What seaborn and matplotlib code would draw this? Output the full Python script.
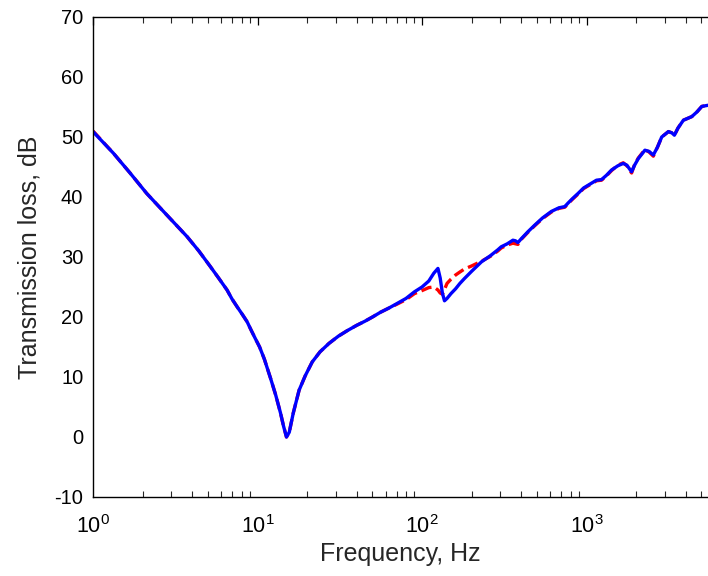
import numpy as np
import pandas as pd
import matplotlib
matplotlib.use("Agg")
import matplotlib.pyplot as plt
import seaborn as sns
from matplotlib.ticker import LogLocator, NullFormatter

freq = [1.0, 1.33, 1.68, 2.12, 2.81, 3.73, 4.4, 5.17, 5.8, 6.53, 7.0, 7.52, 8.1, 8.65,
        9.15, 9.7, 10.3, 11.0, 12.0, 12.9, 13.8, 14.4, 15.0, 15.6, 16.5, 17.9, 19.5,
        21.5, 24.0, 27.2, 31, 35, 40, 45, 50, 56, 63, 70, 80, 90, 100, 110, 118, 125,
        129, 133, 137, 142, 150, 160, 170, 181, 200, 230, 260, 289, 303, 330, 357, 370,
        383, 400, 440, 484, 540, 612, 680, 738, 773, 820, 889, 960, 1072, 1150, 1234,
        1320, 1420, 1550, 1673, 1760, 1880, 1960, 2065, 2265, 2400, 2548, 2700, 2866,
        3148, 3300, 3422, 3600, 3882, 4366, 4700, 5024, 5514, 5700]

tl_measured = [50.9, 47.3, 44.0, 40.6, 37.0, 33.4, 31.0, 28.4, 26.5, 24.5, 23.0, 21.7,
               20.4, 19.2, 17.8, 16.4, 15.0, 13.0, 9.8, 7.0, 4.0, 1.8, 0.0, 0.8, 4.0,
               7.8, 10.2, 12.5, 14.2, 15.6, 16.8, 17.7, 18.6, 19.3, 20.0, 20.8, 21.5,
               22.2, 23.1, 24.2, 25.0, 26.0, 27.3, 28.1, 26.5, 24.0, 22.7, 23.1, 23.9,
               24.7, 25.6, 26.4, 27.6, 29.2, 30.2, 31.2, 31.7, 32.2, 32.8, 32.7, 32.4,
               33.0, 34.2, 35.3, 36.5, 37.6, 38.2, 38.4, 39.0, 39.7, 40.6, 41.5, 42.3,
               42.8, 42.9, 43.6, 44.5, 45.2, 45.6, 45.3, 44.2, 45.3, 46.4, 47.8, 47.6,
               47.0, 48.3, 50.0, 50.9, 50.7, 50.3, 51.5, 52.8, 53.4, 54.2, 55.1, 55.3,
               55.4]

tl_model = [51.0, 47.3, 44.0, 40.6, 37.0, 33.4, 31.0, 28.4, 26.5, 24.5, 23.0, 21.7,
            20.4, 19.2, 17.8, 16.4, 15.0, 13.0, 9.8, 7.0, 4.0, 1.8, 0.0, 0.8, 4.0,
            7.8, 10.2, 12.5, 14.2, 15.6, 16.8, 17.7, 18.6, 19.3, 20.0, 20.8, 21.5,
            22.1, 22.9, 23.9, 24.4, 24.9, 25.0, 24.5, 24.0, 23.8, 24.6, 25.6, 26.3,
            27.0, 27.5, 28.0, 28.5, 29.3, 30.1, 31.0, 31.5, 32.0, 32.3, 32.2, 32.1,
            32.9, 34.1, 35.2, 36.4, 37.5, 38.1, 38.3, 38.9, 39.6, 40.5, 41.4, 42.2,
            42.7, 42.8, 43.5, 44.4, 45.3, 45.7, 45.2, 44.0, 45.4, 46.5, 47.9, 47.5,
            46.8, 48.3, 50.0, 50.9, 50.7, 50.3, 51.5, 52.8, 53.4, 54.2, 55.1, 55.3,
            55.4]

y_ticks = [-10, 0, 10, 20, 30, 40, 50, 60, 70]

sns.set_theme(style="white")
plt.rcParams['font.family'] = ['Liberation Sans', 'DejaVu Sans']
plt.rcParams['mathtext.fontset'] = 'custom'
plt.rcParams['mathtext.rm'] = 'Liberation Sans'
plt.rcParams['mathtext.it'] = 'Liberation Sans'
plt.rcParams['axes.unicode_minus'] = False

W, H = 708, 576
fig = plt.figure(figsize=(W / 100, H / 100), dpi=100)
ax = fig.add_axes([93 / W, (576 - 497) / H, (708 - 93) / W, 480 / H])

df_m = pd.DataFrame({"f": freq, "tl": tl_model})
df_b = pd.DataFrame({"f": freq, "tl": tl_measured})

sns.lineplot(data=df_m, x="f", y="tl", ax=ax, color="#ff0000", linewidth=2.4,
             linestyle=(0, (3.2, 1.5)), sort=False)
sns.lineplot(data=df_b, x="f", y="tl", ax=ax, color="#0000ff", linewidth=2.4,
             sort=False)

ax.set_xscale("log")
ax.set_xlim(1, 10 ** ((708 - 93) / 164.5))
ax.set_ylim(-10, 70)
ax.set_yticks(y_ticks)
ax.xaxis.set_major_locator(LogLocator(base=10, numticks=10))
ax.xaxis.set_minor_locator(LogLocator(base=10, subs=np.arange(2, 10), numticks=50))
ax.xaxis.set_minor_formatter(NullFormatter())

ax.tick_params(axis="both", which="major", direction="in", length=6, width=0.9,
               colors="black", top=True, right=False)
ax.tick_params(axis="y", which="major", labelsize=14.5, pad=7)
ax.tick_params(axis="x", which="major", labelsize=15.5, pad=13)
ax.tick_params(axis="x", which="minor", direction="in", length=4, width=0.8,
               top=True, bottom=True)

for side in ["left", "bottom", "top"]:
    ax.spines[side].set_visible(True)
    ax.spines[side].set_color("black")
    ax.spines[side].set_linewidth(1.0)
ax.spines["right"].set_visible(False)

ax.set_xlabel("Frequency, Hz", fontsize=18, labelpad=3)
ax.set_ylabel("Transmission loss, dB", fontsize=18, labelpad=9)
ax.grid(False)

fig.savefig("out.png", dpi=100)
